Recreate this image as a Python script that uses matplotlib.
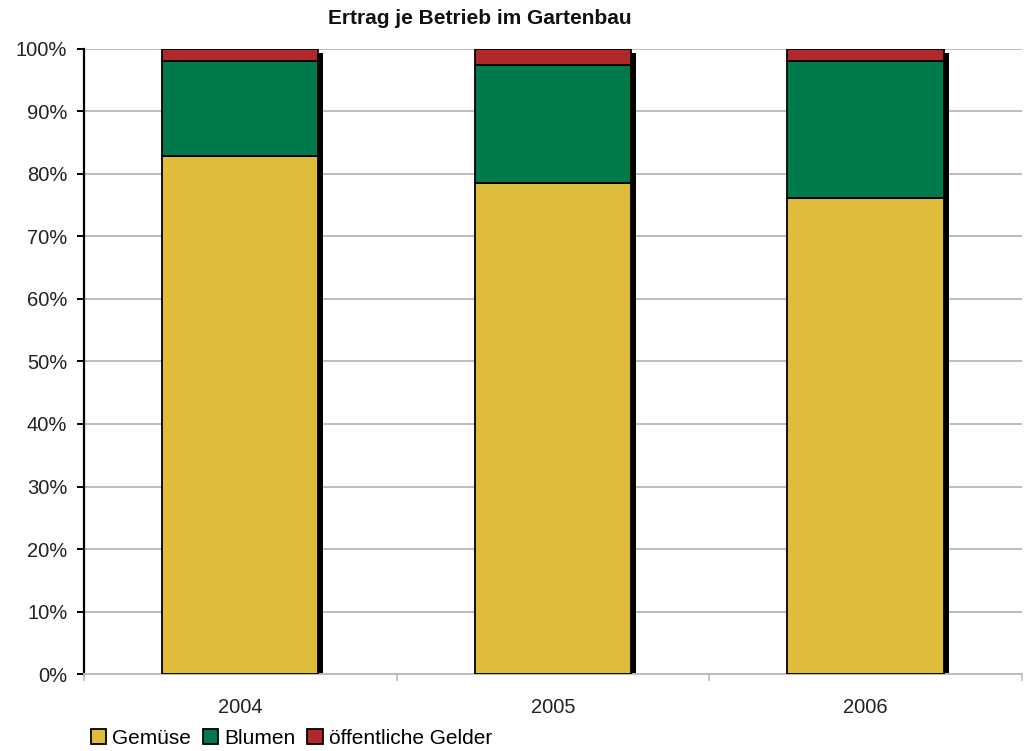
import matplotlib
matplotlib.use("Agg")
import matplotlib.pyplot as plt
import matplotlib.transforms as mtransforms
from matplotlib.patches import Patch
from matplotlib.ticker import FixedLocator, PercentFormatter

plt.rcParams['font.family'] = ['Liberation Sans', 'DejaVu Sans']

years = ["2004", "2005", "2006"]
gemuese = [82.9, 78.5, 76.1]
blumen = [15.2, 18.9, 21.9]
oeffentliche_gelder = [1.9, 2.6, 2.0]
series_names = ["Gemüse", "Blumen", "öffentliche Gelder"]
colors = ["#E0BC3C", "#007A4A", "#B0282A"]

fig = plt.figure(figsize=(10.27, 7.51), dpi=100)
ax = fig.add_axes([0.0818, 0.1025, 0.9132, 0.8323])

x = list(range(len(years)))
width = 0.5
totals = [g + b + o for g, b, o in zip(gemuese, blumen, oeffentliche_gelder)]

# drop shadow behind each stacked column
shadow_tr = ax.transData + mtransforms.ScaledTranslation(5 / 100, -4 / 100, fig.dpi_scale_trans)
ax.bar(x, totals, width=width, color="black", edgecolor="none", transform=shadow_tr, zorder=2)

bottom = [0.0] * len(x)
for vals, color in zip([gemuese, blumen, oeffentliche_gelder], colors):
    ax.bar(x, vals, width=width, bottom=bottom, color=color, edgecolor="black",
           linewidth=1.3, zorder=3)
    bottom = [b + v for b, v in zip(bottom, vals)]

ax.set_xlim(-0.5, 2.5)
ax.set_ylim(0, 100)
ax.yaxis.set_major_locator(FixedLocator(range(0, 101, 10)))
ax.yaxis.set_major_formatter(PercentFormatter(decimals=0))
ax.yaxis.grid(True, color="#BDBDBD", linewidth=1.4, zorder=0)
ax.set_axisbelow(True)

ax.set_xticks(x)
ax.set_xticklabels(years)
ax.set_xticks([-0.5, 0.5, 1.5, 2.5], minor=True)
ax.tick_params(axis="x", which="major", length=0, pad=17, labelsize=14.5, colors="#222222")
ax.tick_params(axis="x", which="minor", length=5, width=1.2, color="#BDBDBD")
ax.tick_params(axis="y", length=5, width=1.4, color="black", labelsize=14.5,
               labelcolor="#222222", pad=7)

for side in ("top", "right"):
    ax.spines[side].set_visible(False)
ax.spines["left"].set_color("black")
ax.spines["left"].set_linewidth(1.6)
ax.spines["bottom"].set_color("#BDBDBD")
ax.spines["bottom"].set_linewidth(1.4)

fig.text(480 / 1027, 1 - 19 / 751, "Ertrag je Betrieb im Gartenbau", ha="center",
         va="center", fontsize=15, fontweight="bold", color="#111111")

handles = [Patch(facecolor=c, edgecolor="black", linewidth=1.3) for c in colors]
fig.legend(handles, series_names, loc="lower left", bbox_to_anchor=(0.076, -0.012),
           ncol=3, frameon=False, fontsize=15, handlelength=0.75, handleheight=0.75,
           handletextpad=0.3, columnspacing=0.55, borderaxespad=0.2)

fig.savefig("out.png", dpi=100)
